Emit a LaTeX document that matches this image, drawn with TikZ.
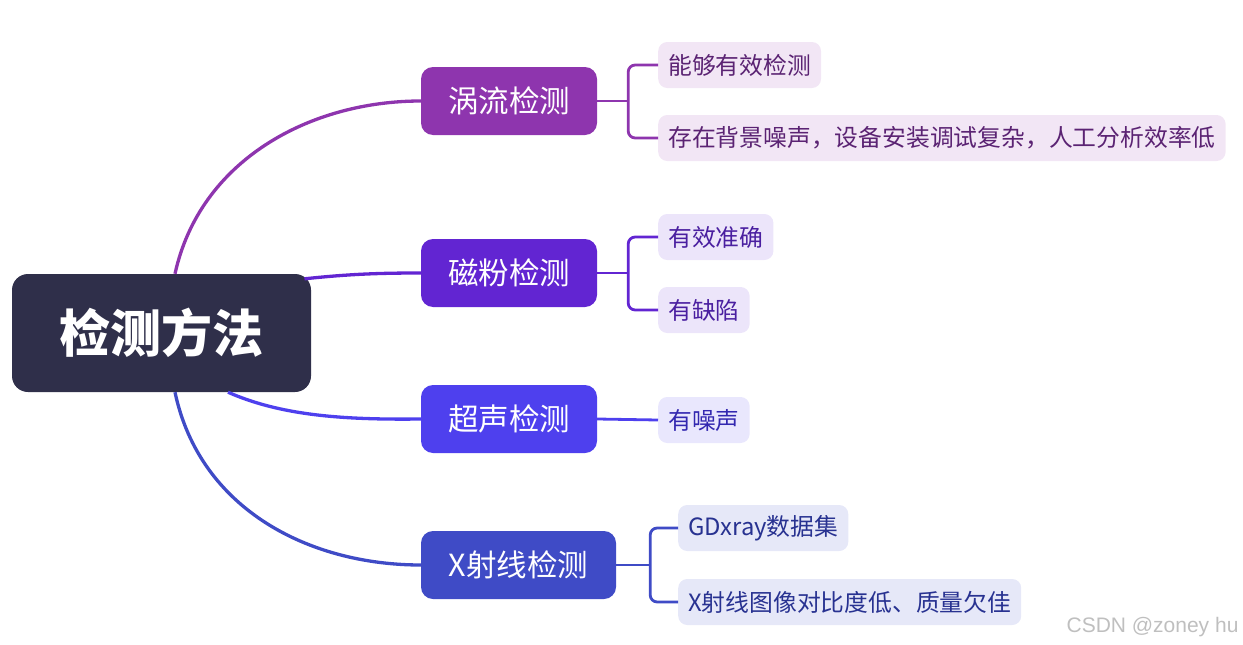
\documentclass[tikz,border=0pt]{standalone}
\usepackage{fontspec}
\setmainfont{Noto Sans CJK SC}
\newfontfamily\markfont{Liberation Sans}
\usepackage{xcolor}
\usepackage{tikz}
\usetikzlibrary{positioning}
\definecolor{rootfill}{HTML}{2F2F4A}
\definecolor{eddyc}{HTML}{8E35AE}
\definecolor{eddyleaf}{HTML}{F2E6F5}
\definecolor{eddytext}{HTML}{5B2373}
\definecolor{magc}{HTML}{6225D2}
\definecolor{magleaf}{HTML}{ECE5FA}
\definecolor{magtext}{HTML}{4A1FA0}
\definecolor{sonc}{HTML}{4E40EE}
\definecolor{sonleaf}{HTML}{E9E7FD}
\definecolor{sontext}{HTML}{3328B0}
\definecolor{xrc}{HTML}{3F4BC6}
\definecolor{xrleaf}{HTML}{E6E8F8}
\definecolor{xrtext}{HTML}{283291}
\tikzstyle{rootbox} = [rectangle, rounded corners=16pt, fill=rootfill, text=white, minimum width=299pt, minimum height=118pt, font=\fontsize{51}{54}\selectfont\bfseries]
\tikzstyle{method} = [rectangle, rounded corners=12pt, text=white, minimum width=176pt, minimum height=68pt, font=\fontsize{30.5}{33}\selectfont]
\tikzstyle{leaf} = [rectangle, rounded corners=9pt, anchor=west, minimum height=46pt, inner xsep=10pt, font=\fontsize{23.8}{26}\selectfont]
\tikzstyle{branch} = [draw, line width=3.3pt]
\tikzstyle{twig} = [draw, line width=2.8pt, rounded corners=7pt]

\begin{document}
\begin{tikzpicture}[x=1pt, y=-1pt]
    \useasboundingbox (0,0) rectangle (1243,645);
    % Nodes
    \node [rootbox] (root) at (161.5,333) {检测方法};
    \node [method, fill=eddyc] (eddy) at (509,101) {涡流检测};
    \node [method, fill=magc] (mag) at (509,273) {磁粉检测};
    \node [method, fill=sonc] (son) at (509,419) {超声检测};
    \node [method, fill=xrc, minimum width=195pt] (xray) at (518.5,565) {X射线检测};
    \node [leaf, fill=eddyleaf, text=eddytext] (eddyok) at (658,65) {能够有效检测};
    \node [leaf, fill=eddyleaf, text=eddytext] (eddybad) at (658,138) {存在背景噪声，设备安装调试复杂，人工分析效率低};
    \node [leaf, fill=magleaf, text=magtext] (magok) at (658,237) {有效准确};
    \node [leaf, fill=magleaf, text=magtext] (magbad) at (658,310) {有缺陷};
    \node [leaf, fill=sonleaf, text=sontext] (sonbad) at (658,420) {有噪声};
    \node [leaf, fill=xrleaf, text=xrtext] (xrdata) at (678,528) {GDxray数据集};
    \node [leaf, fill=xrleaf, text=xrtext] (xrbad) at (678,602) {X射线图像对比度低、质量欠佳};
    \node [anchor=east, text=black!25, font=\markfont\fontsize{21}{23}\selectfont] (mark) at (1242,627) {CSDN @zoney hu};
    \coordinate (eddyjoint) at ([xshift=31pt]eddy.east);
    \coordinate (magjoint) at ([xshift=31pt]mag.east);
    \coordinate (xrjoint) at ([xshift=34pt]xray.east);

    % Edges
    \path [branch, eddyc] ([xshift=13.5pt]root.north) .. controls (200,160) and (310,101) .. (eddy.west);
    \path [branch, magc] ([xshift=143pt, yshift=-5pt]root.north) .. controls (350,274) and (380,273) .. (mag.west);
    \path [branch, sonc] ([xshift=66.5pt]root.south) .. controls (280,415) and (340,420) .. (son.west);
    \path [branch, xrc] ([xshift=13.5pt]root.south) .. controls (200,510) and (310,565) .. (xray.west);
    \path [twig, eddyc] (eddy.east) -- (eddyjoint);
    \path [twig, eddyc] (eddyok.west) -| (eddyjoint) |- (eddybad.west);
    \path [twig, magc] (mag.east) -- (magjoint);
    \path [twig, magc] (magok.west) -| (magjoint) |- (magbad.west);
    \path [twig, sonc] (son.east) -- (sonbad.west);
    \path [twig, xrc] (xray.east) -- (xrjoint);
    \path [twig, xrc] (xrdata.west) -| (xrjoint) |- (xrbad.west);
\end{tikzpicture}
\end{document}
